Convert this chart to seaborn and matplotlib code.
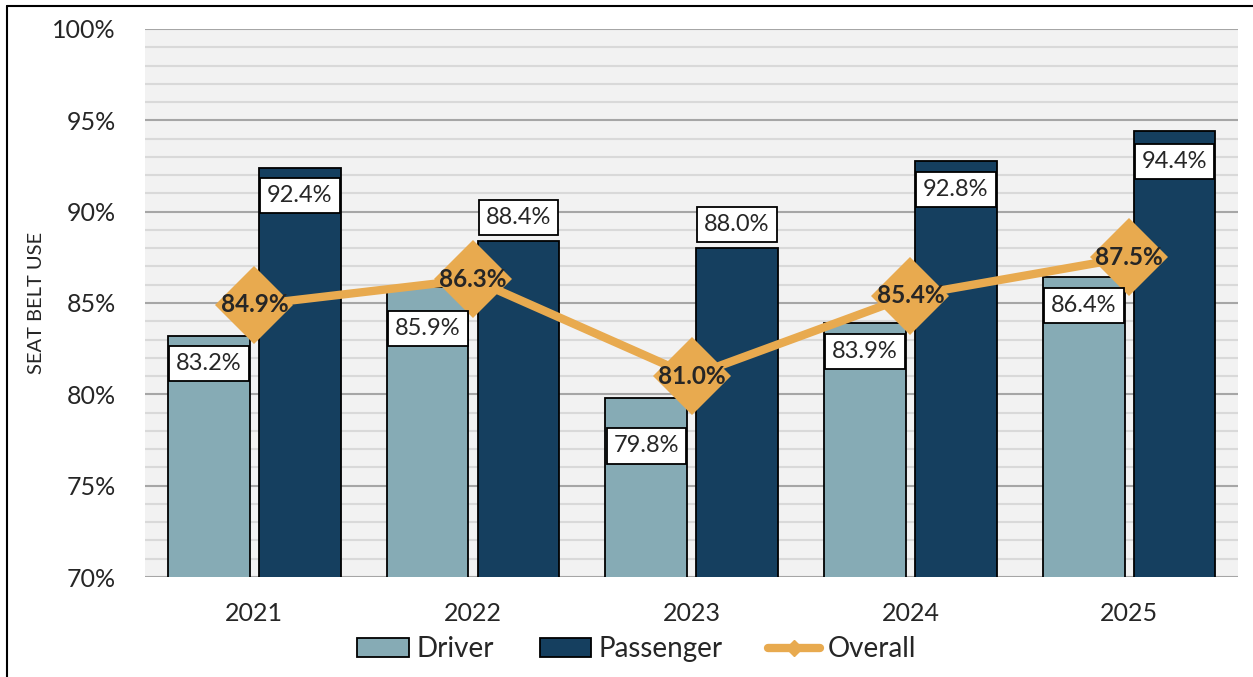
import matplotlib
matplotlib.use('Agg')
import matplotlib.pyplot as plt
import pandas as pd
import seaborn as sns
from matplotlib.lines import Line2D
from matplotlib.patches import Patch
from matplotlib.ticker import MultipleLocator, FuncFormatter

# Data
years = ['2021', '2022', '2023', '2024', '2025']
driver = [83.2, 85.9, 79.8, 83.9, 86.4]
passenger = [92.4, 88.4, 88.0, 92.8, 94.4]
overall = [84.9, 86.3, 81.0, 85.4, 87.5]

# label offsets (pixels from bar top), Excel moved a few of them around
driver_off = [-28, -42, -48, -28, -28]
passenger_off = [-28, 23, 24, -29, -30]

c_driver = '#86ABB5'
c_pass = '#153F5F'
c_overall = '#E8AA4F'

df = pd.DataFrame({
    'year': years * 2,
    'value': driver + passenger,
    'group': ['Driver'] * 5 + ['Passenger'] * 5,
})
df_all = pd.DataFrame({'year': years, 'value': overall})

sns.set_style('white')
plt.rcParams['font.family'] = ['Lato', 'DejaVu Sans']

fig = plt.figure(figsize=(12.53, 6.77), dpi=100)
ax = fig.add_axes([0.1157, 0.1477, 0.8727, 0.8095])
ax.set_facecolor('#F2F2F2')

sns.barplot(data=df, x='year', y='value', hue='group', order=years,
            palette=[c_driver, c_pass], saturation=1, width=0.83, gap=0.1,
            edgecolor='black', linewidth=1.3, legend=False, ax=ax, zorder=2)

sns.pointplot(data=df_all, x='year', y='value', order=years, color=c_overall,
              markers='D', markersize=40, linewidth=6, errorbar=None,
              markeredgewidth=0, ax=ax, zorder=4)

# data labels on the bars
for cont, offs in zip(ax.containers[:2], [driver_off, passenger_off]):
    for bar, off in zip(cont, offs):
        x = bar.get_x() + bar.get_width() / 2
        y = bar.get_height()
        ax.annotate(f'{y:.1f}%', (x, y), xytext=(0, off), textcoords='offset pixels',
                    ha='center', va='center', fontsize=17, zorder=5,
                    bbox=dict(boxstyle='square,pad=0.3', fc='white', ec='black', lw=1.3))

# overall labels on the diamonds
for i, v in enumerate(overall):
    ax.text(i, v, f'{v:.1f}%', ha='center', va='center', fontsize=17.5,
            fontweight='bold', zorder=6)

ax.set_ylim(70, 100)
ax.set_xlim(-0.5, 4.5)
ax.yaxis.set_major_locator(MultipleLocator(5))
ax.yaxis.set_minor_locator(MultipleLocator(1))
ax.yaxis.set_major_formatter(FuncFormatter(lambda v, p: f'{v:.0f}%'))
ax.grid(axis='y', which='major', color='#A6A6A6', lw=1.5, zorder=0)
ax.grid(axis='y', which='minor', color='#D9D9D9', lw=1.5, zorder=0)
ax.set_axisbelow(True)
ax.tick_params(axis='both', which='both', length=0, labelsize=18)
ax.tick_params(axis='y', pad=21)
ax.tick_params(axis='x', pad=18)
ax.set_xlabel('')
ax.set_ylabel('SEAT BELT USE', fontsize=14.5, labelpad=5)
for s in ax.spines.values():
    s.set_visible(False)

handles = [Patch(fc=c_driver, ec='black', lw=1.3, label='Driver'),
           Patch(fc=c_pass, ec='black', lw=1.3, label='Passenger'),
           Line2D([], [], color=c_overall, lw=6, marker='D', markersize=8, label='Overall')]
fig.legend(handles=handles, loc='center', bbox_to_anchor=(0.508, 0.041), ncol=3,
           frameon=False, fontsize=20, handlelength=1.87, handleheight=0.68,
           handletextpad=0.25, columnspacing=1.65)

# outer border (left and top only visible)
fig.add_artist(Line2D([0.0056, 0.0056], [0, 0.991], color='black', lw=1.5))
fig.add_artist(Line2D([0.0056, 1], [0.991, 0.991], color='black', lw=1.5))

fig.savefig('out.png', dpi=100)
